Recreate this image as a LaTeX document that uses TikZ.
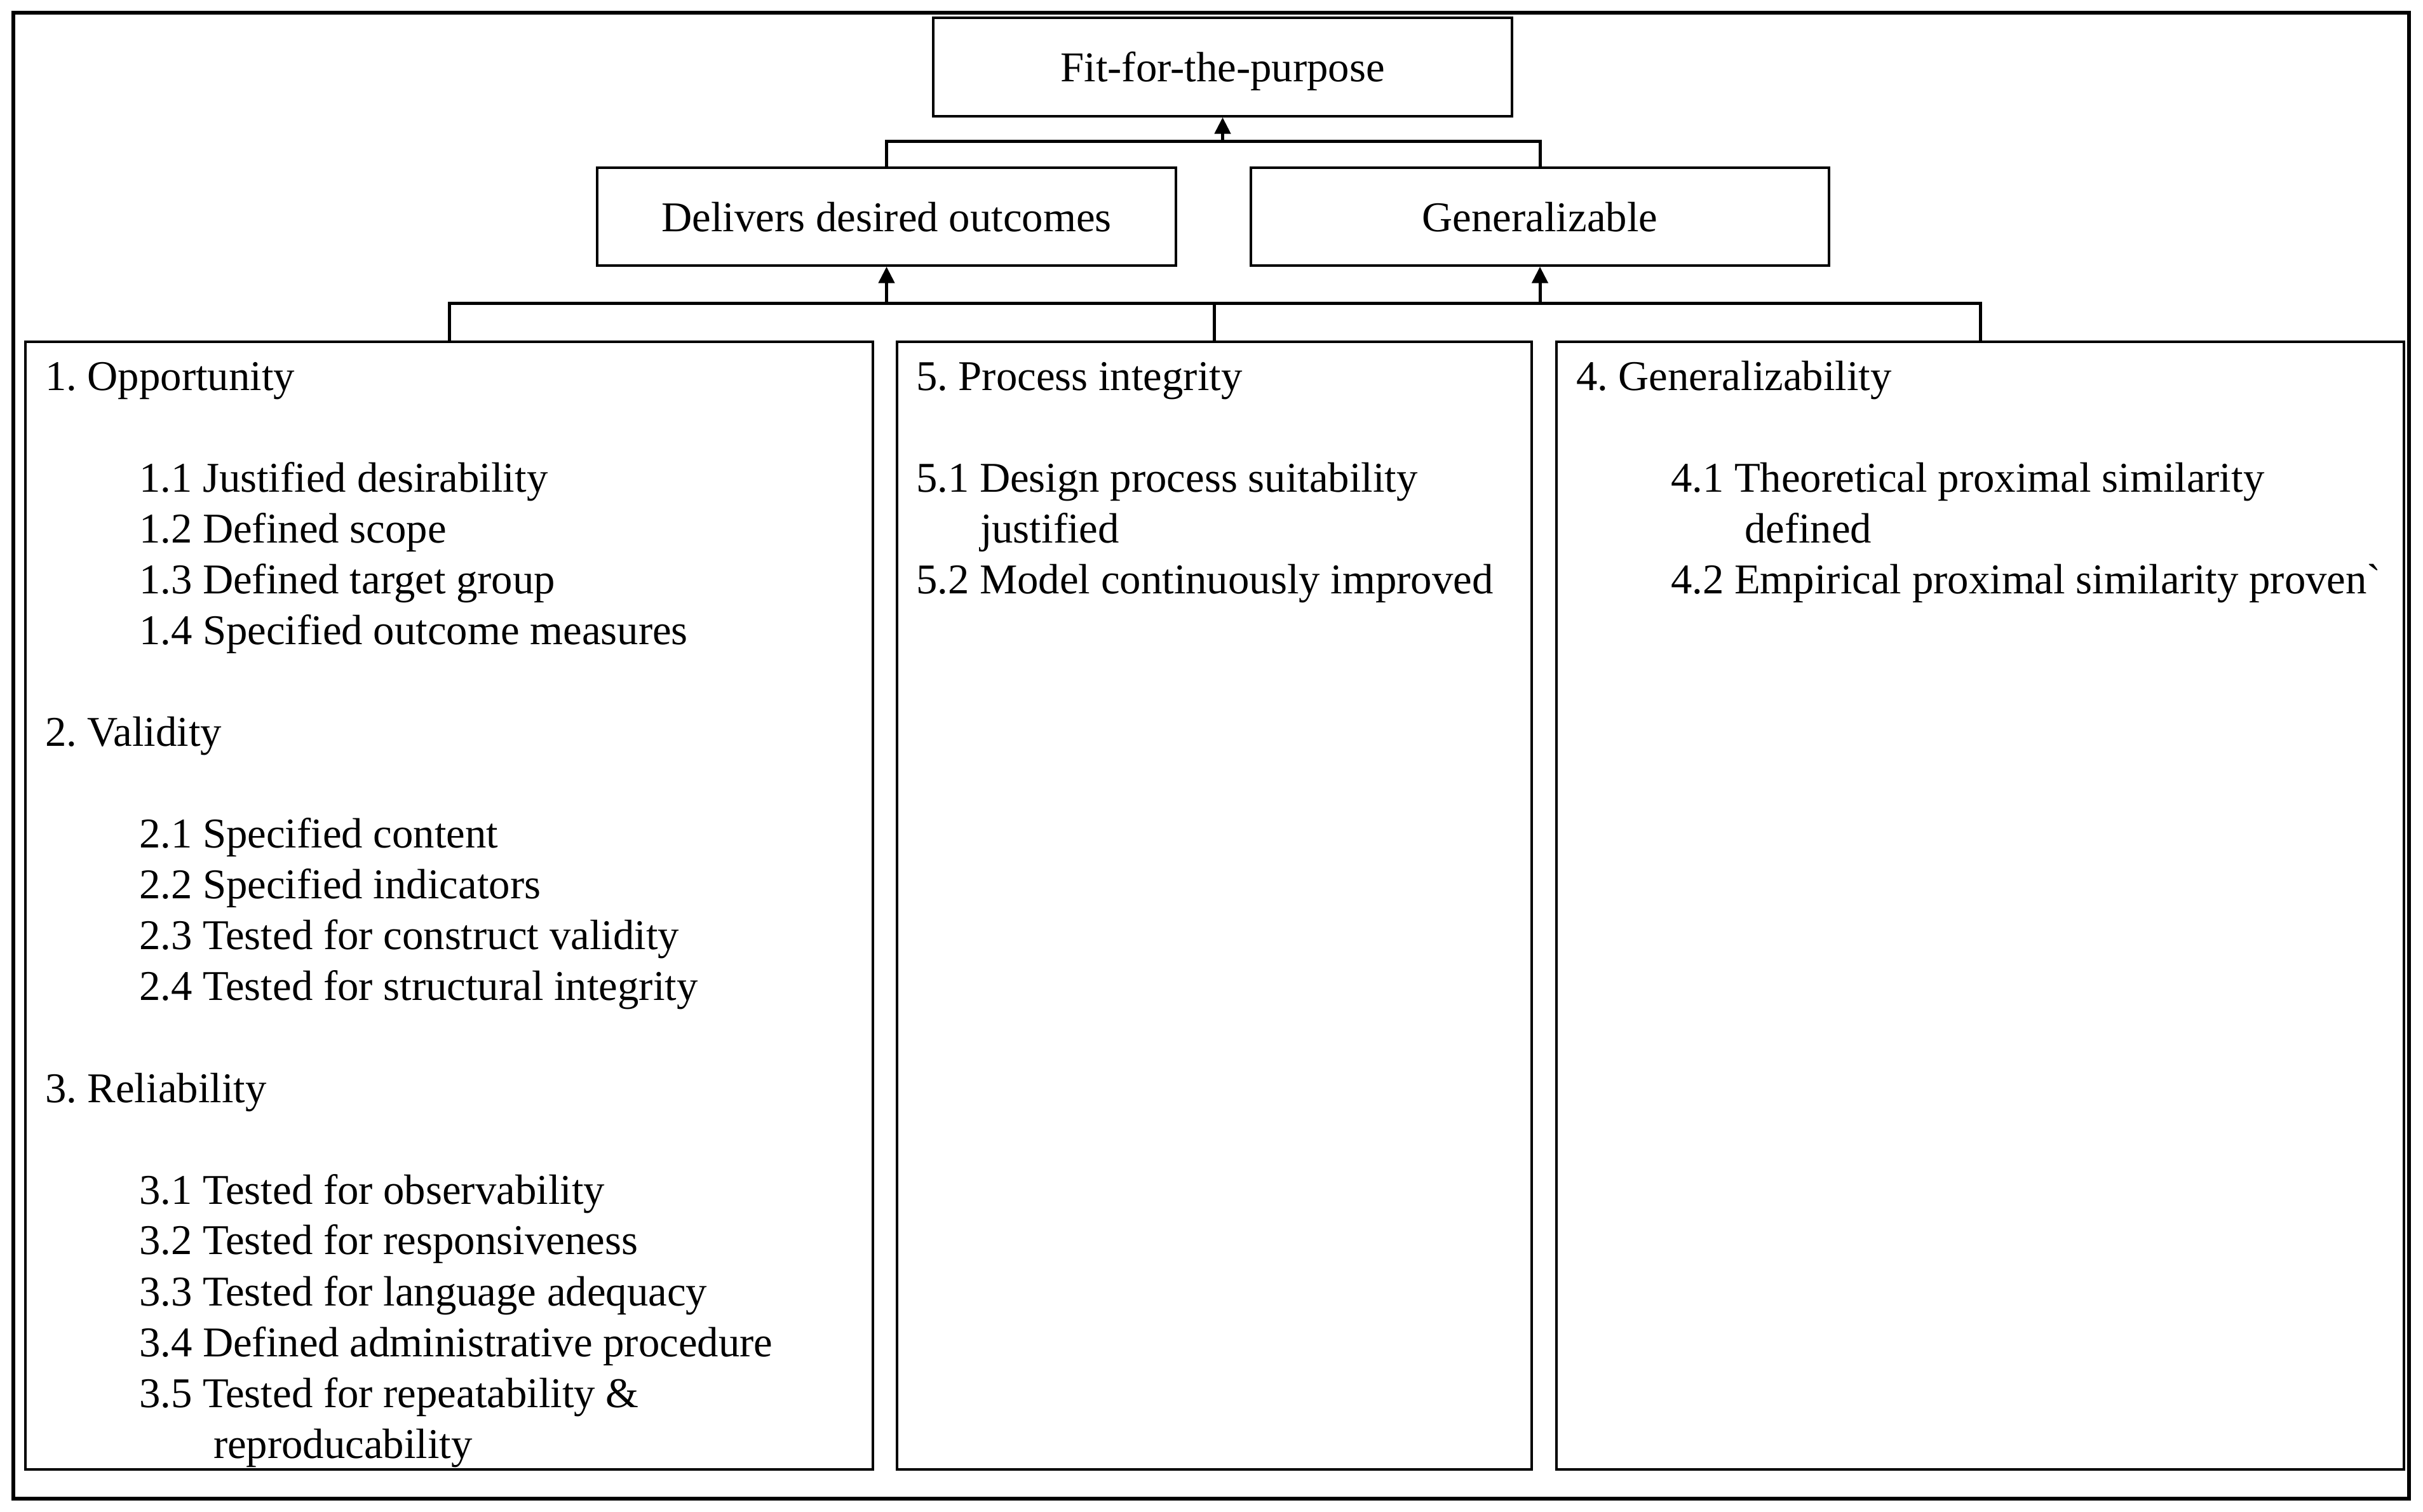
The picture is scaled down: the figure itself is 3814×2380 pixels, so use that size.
\documentclass[tikz,border=0pt]{standalone}
\usepackage{fontspec}
\setmainfont{Liberation Serif}
\usetikzlibrary{arrows.meta}
\frenchspacing
\newcommand\fsz{\fontsize{13.35pt}{16pt}\selectfont\frenchspacing}
\tikzset{
  box/.style={draw, line width=0.7pt, inner sep=0pt, text depth=0pt, font=\fsz},
  conn/.style={line width=1pt},
  arr/.style={line width=1pt, -{Triangle[width=5pt,length=5.2pt]}},
  txt/.style={anchor=base west, inner sep=0pt, font=\fsz},
  frame/.style={line width=1.3pt}
}
\begin{document}
\begin{tikzpicture}[x=0.2pt,y=-0.2pt]
\useasboundingbox (0,0) rectangle (3814,2380);
\draw[frame] (21,20) rectangle (3792,2359);

\node[box, minimum width=182.2pt, minimum height=31pt] (top) at (1924.5,105.5) {Fit-for-the-purpose};
\node[box, minimum width=182.2pt, minimum height=30.8pt] (del) at (1395.5,341) {Delivers desired outcomes};
\node[box, minimum width=182pt, minimum height=30.8pt] (gen) at (2424,341) {Generalizable};

\node[box, minimum width=266.8pt, minimum height=355pt] (c1) at (707,1425.5) {};
\node[box, minimum width=199.8pt, minimum height=355pt] (c5) at (1911.5,1425.5) {};
\node[box, minimum width=266.8pt, minimum height=355pt] (c4) at (3117,1425.5) {};

% upper connectors
\coordinate (bar1) at (1926,223);
\draw[conn] (del.north) |- (bar1) -| (gen.north);
\draw[arr] (top.south |- bar1) -- (top.south);

% lower connectors
\coordinate (bar2) at (1912,478);
\draw[conn] (c1.north) |- (bar2) -| (c4.north);
\draw[conn] (c5.north) -- (c5.north |- bar2);
\draw[arr] (del.south |- bar2) -- (del.south);
\draw[arr] (gen.south |- bar2) -- (gen.south);

% left column
\node[txt] (l0) at (70,615) {1. Opportunity};
\node[txt] (l2) at (218,775) {1.1 Justified desirability};
\node[txt] (l3) at (218,855) {1.2 Defined scope};
\node[txt] (l4) at (218,935) {1.3 Defined target group};
\node[txt] (l5) at (218,1015) {1.4 Specified outcome measures};
\node[txt] (l7) at (70,1175) {2. Validity};
\node[txt] (l9) at (218,1335) {2.1 Specified content};
\node[txt] (l10) at (218,1415) {2.2 Specified indicators};
\node[txt] (l11) at (218,1495) {2.3 Tested for construct validity};
\node[txt] (l12) at (218,1575) {2.4 Tested for structural integrity};
\node[txt] (l14) at (70,1735) {3. Reliability};
\node[txt] (l16) at (218,1895) {3.1 Tested for observability};
\node[txt] (l17) at (218,1975) {3.2 Tested for responsiveness};
\node[txt] (l18) at (218,2055) {3.3 Tested for language adequacy};
\node[txt] (l19) at (218,2135) {3.4 Defined administrative procedure};
\node[txt] (l20) at (218,2215) {3.5 Tested for repeatability \&};
\node[txt] (l21) at (335,2295) {reproducability};

% middle column
\node[txt] (m0) at (1441,615) {5. Process integrity};
\node[txt] (m2) at (1441,775) {5.1 Design process suitability};
\node[txt] (m3) at (1542,855) {justified};
\node[txt] (m4) at (1441,935) {5.2 Model continuously improved};

% right column
\node[txt] (r0) at (2480,615) {4. Generalizability};
\node[txt] (r2) at (2629,775) {4.1 Theoretical proximal similarity};
\node[txt] (r3) at (2745,855) {defined};
\node[txt] (r4) at (2629,935) {4.2 Empirical proximal similarity proven\textasciigrave};
\end{tikzpicture}
\end{document}
